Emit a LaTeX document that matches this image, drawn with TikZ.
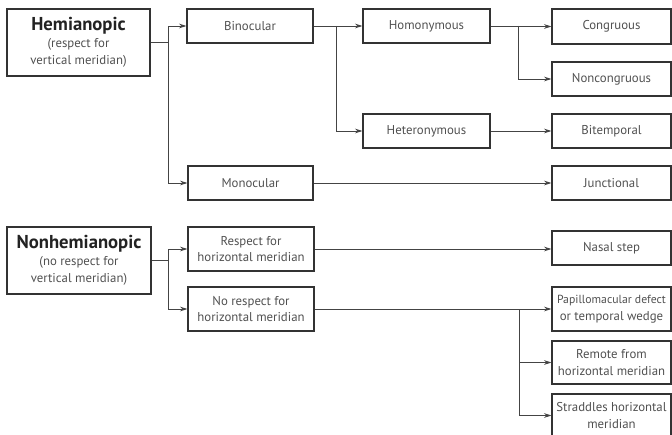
\documentclass[tikz,border=0pt]{standalone}
\usepackage{fontspec}
\setmainfont{PT Sans}
\usetikzlibrary{arrows.meta}
\definecolor{boxc}{HTML}{333333}
\definecolor{linec}{HTML}{444444}
\definecolor{txt}{HTML}{505050}
\definecolor{head}{HTML}{222222}
\newcommand\bx[6]{\node[box, minimum width={(#4-#2)*0.75pt}, minimum height={(#5-#3)*0.75pt}] (#1) at ({(#2+#4)/2},{(#3+#5)/2}) {#6};}
\newcommand\hd[1]{{\color{head}\bfseries\fontsize{14}{14}\selectfont #1}}
\begin{document}
\begin{tikzpicture}[x=0.75pt,y=-0.75pt,
 box/.style={draw=boxc, line width=0.9pt, align=center, text=txt, font=\fontsize{9.6}{12.6}\selectfont, inner sep=0pt},
 con/.style={draw=linec, line width=0.7pt},
 arr/.style={con, -{Stealth[length=5.5pt,width=3.5pt]}}]
\useasboundingbox (0,0) rectangle (672,435);
\bx{hemi}{7}{9}{150}{76}{\hd{Hemianopic}\\(respect for\\vertical meridian)}
\bx{bino}{187}{9}{313}{43}{Binocular}
\bx{mono}{188}{166}{313}{200}{Monocular}
\bx{homo}{363}{9}{490}{43}{Homonymous}
\bx{hetero}{363}{114}{490}{148}{Heteronymous}
\bx{cong}{552}{9}{671}{44}{Congruous}
\bx{noncong}{552}{62}{671}{96}{Noncongruous}
\bx{bitemp}{552}{114}{671}{148}{Bitemporal}
\bx{junc}{552}{166}{671}{200}{Junctional}
\bx{nonhemi}{7}{227}{151}{294}{\hd{Nonhemianopic}\\(no respect for\\vertical meridian)}
\bx{resp}{188}{227}{314}{271}{Respect for\\horizontal meridian}
\bx{noresp}{188}{287}{314}{331}{No respect for\\horizontal meridian}
\bx{nasal}{552}{231}{671}{265}{Nasal step}
\bx{papil}{552}{287}{671}{331}{\fontsize{8.8}{12.6}\selectfont Papillomacular defect\\or temporal wedge}
\bx{remote}{552}{341}{671}{384}{Remote from\\horizontal meridian}
\bx{strad}{552}{394}{671}{437}{Straddles horizontal\\meridian}
\coordinate (j1) at (168,42.5);
\coordinate (j2) at (336,26);
\coordinate (j3) at (518,26);
\coordinate (j4) at (168,260.5);
\coordinate (j5) at (519,309);
\draw[con] (hemi.east) -- (j1);
\draw[arr] (j1) |- (bino.west);
\draw[arr] (j1) |- (mono.west);
\draw[con] (bino.east) -- (j2);
\draw[arr] (j2) |- (homo.west);
\draw[arr] (j2) |- (hetero.west);
\draw[con] (homo.east) -- (j3);
\draw[arr] (j3) |- (cong.west);
\draw[arr] (j3) |- (noncong.west);
\draw[arr] (hetero.east) -- (bitemp.west);
\draw[arr] (mono.east) -- (junc.west);
\draw[con] (nonhemi.east) -- (j4);
\draw[arr] (j4) |- (resp.west);
\draw[arr] (j4) |- (noresp.west);
\draw[arr] (resp.east) -- (resp.east -| nasal.west);
\draw[con] (noresp.east) -- (j5);
\draw[arr] (j5) -- (papil.west);
\draw[arr] (j5) |- (remote.west);
\draw[arr] (j5) |- (strad.west);
\end{tikzpicture}
\end{document}
